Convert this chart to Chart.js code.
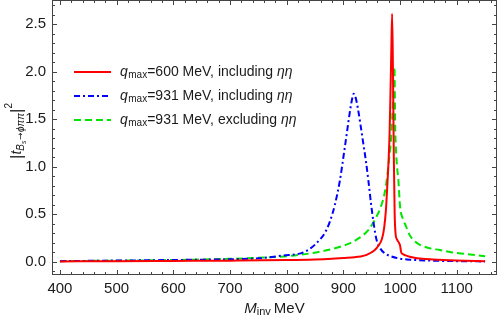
<!DOCTYPE html>
<html>
<head>
<meta charset="utf-8">
<script src="https://cdn.jsdelivr.net/npm/chart.js@4.4.1/dist/chart.umd.min.js"></script>
<style>
html,body{margin:0;padding:0;background:#fff;}
#wrap{width:498px;height:322px;position:relative;}
</style>
</head>
<body>
<div id="wrap"><canvas id="c" width="498" height="322"></canvas></div>
<script>
// q_max = 600 MeV, including eta-eta (red, solid)
const redM = [400,500,600,700,800,850,880,900,920,930,941,955,962,968,972,975,977.5,980,981.5,983,984.5,986,987.5,989,990.5,992,995,998,1000,1002,1005,1010,1017,1030,1058,1100,1150];
const redV = [0.003,0.005,0.008,0.011,0.017,0.024,0.032,0.04,0.048,0.055,0.072,0.12,0.17,0.24,0.36,0.54,0.8,1.1,1.35,1.75,2.2,2.61,2.0,1.1,0.5,0.3,0.23,0.2,0.17,0.1,0.08,0.066,0.052,0.037,0.024,0.013,0.006];
// q_max = 931 MeV, including eta-eta (blue, dash-dot)
const blueM = [400,500,600,700,750,793,826,842,858,867,876,885,894,900,906,912,916,918,920,922,926,930,935,940,944,949,954,958.5,965,973,985,1000,1020,1050,1100,1150];
const blueV = [0.006,0.012,0.018,0.026,0.036,0.065,0.09,0.14,0.23,0.3,0.42,0.6,0.86,1.1,1.35,1.6,1.73,1.77,1.75,1.72,1.6,1.45,1.25,1.05,0.86,0.6,0.38,0.23,0.14,0.088,0.055,0.032,0.02,0.012,0.006,0.003];
// q_max = 931 MeV, excluding eta-eta (green, dashed)
const greenM = [400,500,600,700,750,800,842,870,896,910,920,935,945,951.5,958,965,972,976.5,981,984,986,988,990,991.5,993,995,997,1000,1005,1010,1017,1025,1035,1050,1070,1090,1117,1150];
const greenV = [0.006,0.011,0.018,0.03,0.042,0.058,0.088,0.12,0.16,0.19,0.22,0.28,0.34,0.40,0.47,0.56,0.7,0.86,1.1,1.28,1.5,1.75,2.05,1.4,1.15,0.98,0.86,0.58,0.45,0.38,0.28,0.22,0.178,0.145,0.123,0.10,0.081,0.057];

const xTickLabels = [400,500,600,700,800,900,1000,1100];
const yTickLabels = [0,0.5,1.0,1.5,2.0,2.5];
const seriesNames = ['600 MeV, including ', '931 MeV, including ', '931 MeV, excluding '];

const toPts = (m, v) => m.map((mm, i) => ({x: mm, y: v[i]}));

const FONT = '"Liberation Sans", Arial, sans-serif';
const colors = ['#ff0000', '#0000ff', '#00e600'];
const dashes = [[], [6, 3, 2, 3], [7, 4]];

function drawRich(ctx, segs, x, y) {
  let cx = x;
  for (const s of segs) {
    ctx.font = s.f;
    ctx.fillText(s.t, cx, y + (s.dy || 0));
    cx += ctx.measureText(s.t).width + (s.sp || 0);
  }
  return cx;
}
function richWidth(ctx, segs) {
  let w = 0;
  for (const s of segs) { ctx.font = s.f; w += ctx.measureText(s.t).width + (s.sp || 0); }
  return w;
}

const decor = {
  id: 'decor',
  afterDraw(chart) {
    const {ctx, chartArea: a, scales: {x, y}} = chart;
    ctx.save();
    ctx.strokeStyle = '#444';
    ctx.lineWidth = 1;
    ctx.setLineDash([]);
    ctx.strokeRect(a.left + 0.5, a.top + 0.5, a.right - a.left - 1, a.bottom - a.top - 1);
    ctx.beginPath();
    for (let v = 400; v <= 1160; v += 20) {
      const px = Math.round(x.getPixelForValue(v)) + 0.5;
      if (px < a.left || px > a.right) continue;
      const L = (v % 100 === 0) ? 5 : 3;
      ctx.moveTo(px, a.bottom); ctx.lineTo(px, a.bottom - L);
      ctx.moveTo(px, a.top); ctx.lineTo(px, a.top + L);
    }
    for (let k = -1; k <= 27; k++) {
      const v = k / 10;
      const py = Math.round(y.getPixelForValue(v)) + 0.5;
      if (py < a.top || py > a.bottom) continue;
      const L = (k % 5 === 0) ? 5 : 3;
      ctx.moveTo(a.left, py); ctx.lineTo(a.left + L, py);
      ctx.moveTo(a.right, py); ctx.lineTo(a.right - L, py);
    }
    ctx.stroke();

    ctx.fillStyle = '#1a1a1a';
    ctx.textBaseline = 'middle';
    const rows = [72, 96, 120];
    for (let i = 0; i < 3; i++) {
      ctx.strokeStyle = colors[i];
      ctx.lineWidth = 2;
      ctx.setLineDash(dashes[i]);
      ctx.beginPath();
      ctx.moveTo(74, rows[i]); ctx.lineTo(111, rows[i]);
      ctx.stroke();
      ctx.setLineDash([]);
      drawRich(ctx, [
        {t: 'q', f: 'italic 14px ' + FONT, sp: 0.5},
        {t: 'max', f: '10px ' + FONT, dy: 3},
        {t: '=' + seriesNames[i], f: '14px ' + FONT},
        {t: 'ηη', f: 'italic 14px ' + FONT}
      ], 120, rows[i]);
    }
    const xs = [
      {t: 'M', f: 'italic 15px ' + FONT},
      {t: 'inv', f: '11px ' + FONT, dy: 3, sp: 3},
      {t: 'MeV', f: '15px ' + FONT}
    ];
    const xw = richWidth(ctx, xs);
    drawRich(ctx, xs, (a.left + a.right) / 2 - xw / 2, 309);
    const ys = [
      {t: '|', f: '17px ' + FONT},
      {t: 't', f: 'italic 14px ' + FONT},
      {t: 'B', f: 'italic 10px ' + FONT, dy: 4},
      {t: 's', f: 'italic 7px ' + FONT, dy: 7, sp: 0.5},
      {t: '→', f: '9px "DejaVu Sans", sans-serif', dy: 4, sp: 0.5},
      {t: 'ϕππ', f: 'italic 10px ' + FONT, dy: 4},
      {t: '|', f: '17px ' + FONT},
      {t: '2', f: '10px ' + FONT, dy: -8}
    ];
    const yw = richWidth(ctx, ys);
    ctx.translate(17, 131);
    ctx.rotate(-Math.PI / 2);
    drawRich(ctx, ys, -yw / 2, 0);
    ctx.restore();
  }
};

const mk = (label, m, v, i) => ({
  label, data: toPts(m, v),
  borderColor: colors[i], borderWidth: 2, borderDash: dashes[i],
  pointRadius: 0, fill: false, cubicInterpolationMode: 'monotone'
});

new Chart(document.getElementById('c'), {
  type: 'line',
  data: {
    datasets: [
      mk('qmax=600 MeV, including ηη', redM, redV, 0),
      mk('qmax=931 MeV, including ηη', blueM, blueV, 1),
      mk('qmax=931 MeV, excluding ηη', greenM, greenV, 2)
    ]
  },
  options: {
    responsive: false,
    animation: false,
    devicePixelRatio: 1,
    layout: {padding: {top: 0, right: 1, left: 0, bottom: 0}},
    plugins: {legend: {display: false}, tooltip: {enabled: false}},
    scales: {
      x: {
        type: 'linear', min: 386, max: 1171,
        afterBuildTicks: s => { s.ticks = xTickLabels.map(v => ({value: v})); },
        afterFit: s => { s.height = 47; s.paddingLeft = 0; s.paddingRight = 0; },
        grid: {display: false, drawTicks: false},
        border: {display: false},
        ticks: {font: {size: 15, family: FONT}, color: '#1a1a1a', padding: 5, maxRotation: 0, autoSkip: false,
                callback: v => String(v)}
      },
      y: {
        type: 'linear', min: -0.14, max: 2.756,
        afterBuildTicks: s => { s.ticks = yTickLabels.map(v => ({value: v})); },
        afterFit: s => { s.width = 52; s.paddingTop = 0; s.paddingBottom = 0; },
        grid: {display: false, drawTicks: false},
        border: {display: false},
        ticks: {font: {size: 15, family: FONT}, color: '#1a1a1a', padding: 6, autoSkip: false,
                callback: v => Number(v).toFixed(1)}
      }
    }
  },
  plugins: [decor]
});
</script>
</body>
</html>
